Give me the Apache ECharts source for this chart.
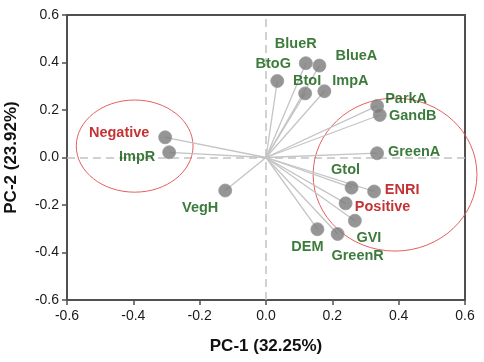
<!DOCTYPE html>
<html>
<head>
<meta charset="utf-8">
<script src="https://cdn.jsdelivr.net/npm/echarts@6/dist/echarts.min.js"></script>
<style>
html, body { margin: 0; padding: 0; background: #fff; }
#chart { width: 484px; height: 362px; }
</style>
</head>
<body>
<div id="chart"></div>
<script>
// 变量名称
const names = ['Negative', 'ImpR', 'VegH', 'BtoG', 'BlueR', 'BlueA', 'BtoI', 'ImpA', 'ParkA', 'GandB',
    'GreenA', 'Gtol', 'ENRI', 'Positive', 'GVI', 'DEM', 'GreenR']
// PC-1 载荷
const pc1 = [-0.304, -0.292, -0.123, 0.034, 0.120, 0.161, 0.118, 0.176, 0.335, 0.343,
    0.335, 0.258, 0.326, 0.240, 0.268, 0.155, 0.216]
// PC-2 载荷
const pc2 = [0.085, 0.022, -0.139, 0.322, 0.397, 0.387, 0.270, 0.279, 0.217, 0.179,
    0.018, -0.127, -0.143, -0.193, -0.266, -0.302, -0.322]
// 红色标签
const redNames = ['Negative', 'ENRI', 'Positive']
// 圈出的分组: [中心x, 中心y, 半径x, 半径y]
const groups = [[-0.396, 0.048, 0.176, 0.194], [0.389, -0.072, 0.247, 0.322]]

// 标签相对点中心的偏移
const labelPlace = {
    Negative: [-46, -4], ImpR: [-32, 5], VegH: [-25, 17], BtoG: [-4, -17], BlueR: [-10, -19],
    BlueA: [37, -10], BtoI: [2, -12], ImpA: [26, -10], ParkA: [29, -7], GandB: [33, 1],
    GreenA: [37, -1], Gtol: [-6, -18], ENRI: [28, -1], Positive: [37, 4], GVI: [14, 17],
    DEM: [-10, 18], GreenR: [20, 22]
}

const chart = echarts.init(document.getElementById('chart'))
const pts = names.map((n, i) => ({
    name: n,
    value: [pc1[i], pc2[i]],
    label: {
        offset: labelPlace[n],
        color: redNames.indexOf(n) >= 0 ? '#b50000' : '#0c5a0c'
    }
}))
const fmt = v => v.toFixed(1)
const axisCommon = {
    type: 'value',
    min: -0.6,
    max: 0.6,
    interval: 0.2,
    nameLocation: 'middle',
    nameTextStyle: { fontFamily: 'Liberation Sans', fontWeight: 'bold', fontSize: 17, color: '#111' },
    axisLine: { onZero: false, lineStyle: { color: '#505050', width: 2 } },
    axisTick: { show: true, length: 5, lineStyle: { color: '#505050', width: 1.5 } },
    axisLabel: { formatter: fmt, fontFamily: 'Liberation Sans', fontSize: 14, color: '#1a1a1a' },
    splitLine: { show: false }
}
const option = {
    animation: false,
    grid: {
        left: 67, right: 19, top: 15, bottom: 62,
        outerBoundsMode: 'none',
        show: true, borderColor: '#505050', borderWidth: 2
    },
    xAxis: Object.assign({}, axisCommon, { name: 'PC-1 (32.25%)', nameGap: 38, axisLabel: Object.assign({}, axisCommon.axisLabel, { margin: 9 }) }),
    yAxis: Object.assign({}, axisCommon, { name: 'PC-2 (23.92%)', nameGap: 47, axisLabel: Object.assign({}, axisCommon.axisLabel, { margin: 8 }) }),
    series: [{ // 分组椭圆
        type: 'custom',
        silent: true,
        z: 1,
        data: groups,
        renderItem: function (params, api) {
            const c = api.coord([api.value(0), api.value(1)])
            const s = api.size([api.value(2), api.value(3)])
            return {
                type: 'ellipse',
                shape: { cx: c[0], cy: c[1], rx: s[0], ry: s[1] },
                style: { fill: 'none', stroke: '#e35f5f', lineWidth: 1 }
            }
        }
    }, { // 载荷线
        type: 'custom',
        silent: true,
        z: 2,
        data: names.map((n, i) => [pc1[i], pc2[i]]),
        renderItem: function (params, api) {
            const o = api.coord([0, 0])
            const p = api.coord([api.value(0), api.value(1)])
            return {
                type: 'line',
                shape: { x1: o[0], y1: o[1], x2: p[0], y2: p[1] },
                style: { stroke: '#c4c4c4', lineWidth: 1.3 }
            }
        },
        markLine: { // 零线
            silent: true,
            z: 1,
            symbol: 'none',
            label: { show: false },
            lineStyle: { color: '#c2c2c2', type: [8, 5], width: 1.5 },
            data: [{ xAxis: 0 }, { yAxis: 0 }]
        }
    }, { // 载荷点
        type: 'scatter',
        z: 3,
        symbolSize: 13,
        itemStyle: { color: '#7b7b7b', borderColor: '#9a9a9a', borderWidth: 1 },
        label: {
            show: true,
            position: 'inside',
            formatter: '{b}',
            align: 'center',
            verticalAlign: 'middle',
            fontFamily: 'Liberation Sans',
            fontWeight: 'bold',
            fontSize: 14.5
        },
        data: pts
    }]
}
chart.setOption(option)
</script>
</body>
</html>
